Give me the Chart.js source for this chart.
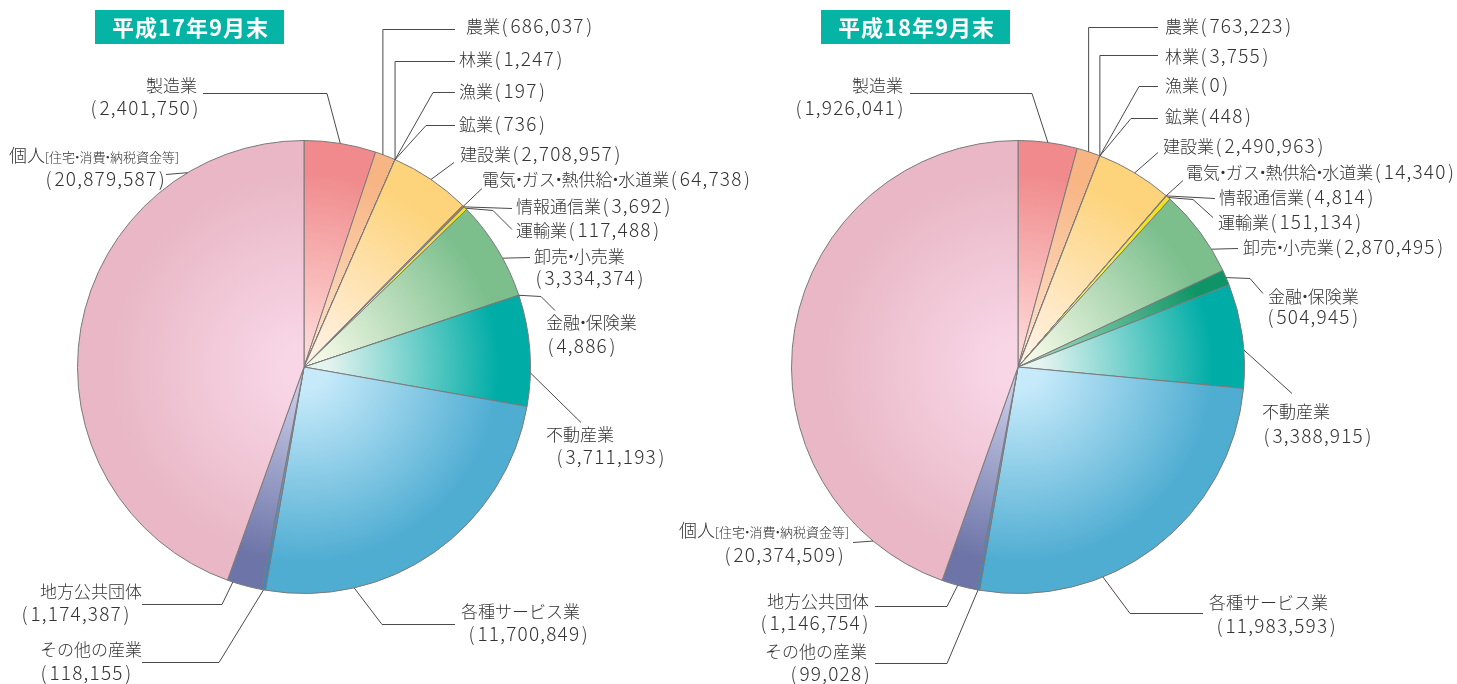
<!DOCTYPE html>
<html><head><meta charset="utf-8">
<script src="https://cdn.jsdelivr.net/npm/chart.js@4.4.1/dist/chart.umd.min.js"></script>
<style>
html,body{margin:0;padding:0;background:#fff;}
#wrap{position:relative;width:1457px;height:684px;overflow:hidden;}
canvas{position:absolute;left:0;top:0;}
</style></head><body>
<div id="wrap"><canvas id="c1" width="1457" height="684"></canvas><canvas id="c2" width="1457" height="684"></canvas></div>
<script>
// ---- data ----
const categories = ['製造業','農業','林業','漁業','鉱業','建設業','電気・ガス・熱供給・水道業','情報通信業','運輸業','卸売・小売業','金融・保険業','不動産業','各種サービス業','その他の産業','地方公共団体','個人'];
const values2005 = [2401750,686037,1247,197,736,2708957,64738,3692,117488,3334374,4886,3711193,11700849,118155,1174387,20879587];
const values2006 = [1926041,763223,3755,0,448,2490963,14340,4814,151134,2870495,504945,3388915,11983593,99028,1146754,20374509];
const titles = ['平成17年9月末','平成18年9月末'];

// ---- styles ----
const sliceLight = ['#fdd6d4','#fde0c8','#f5d4bc','#d9ecf5','#e8e0d0','#fff0e0','#e8c8a8','#dcdcdc','#fff6a0','#f0f7e4','#9ed6b8','#e6f4f0','#c6eafa','#8ab8e0','#c8cae6','#f8d6e6'];
const sliceDark  = ['#f08a8c','#f7b584','#d89868','#6ab0d8','#b0a080','#fdd47c','#b07850','#909090','#f2e21e','#7cbf8d','#0e9466','#00aca6','#4fadd2','#3f86c4','#6d75a8','#e9b7c5'];
const FONT = '"Noto Sans CJK JP","Noto Sans",sans-serif';

function fmt(n){ return n.toLocaleString('en-US'); }

function sliceFill(ctx){
  const i = ctx.dataIndex, chart = ctx.chart, ca = chart.chartArea;
  if(!ca) return sliceDark[i];
  const cx=(ca.left+ca.right)/2, cy=(ca.top+ca.bottom)/2, R=Math.min(ca.width,ca.height)/2;
  const g = chart.ctx.createRadialGradient(cx,cy,0,cx,cy,R);
  g.addColorStop(0, sliceLight[i]);
  g.addColorStop(0.1, sliceLight[i]);
  g.addColorStop(0.86, sliceDark[i]);
  g.addColorStop(1, sliceDark[i]);
  return g;
}

function drawRich(c, str, x, y, size){
  const base = y + 6.5;
  c.textBaseline='alphabetic';
  let cx=x;
  for(const ch of str){
    if(ch==='・'){
      c.font = '300 '+size+'px '+FONT;
      const w=size*0.34; c.textAlign='center'; c.fillText(ch,cx+w/2,base); cx+=w;
    } else if(/[0-9,]/.test(ch) && size>=15){
      c.font = '300 19px '+FONT; c.textAlign='left'; c.fillText(ch,cx,base);
      cx+=c.measureText(ch).width+1.2;
    } else if(/[()]/.test(ch) && size>=15){
      c.font = '300 19px '+FONT; c.textAlign='left';
      if(ch==='('){ cx+=1.5; c.fillText(ch,cx,base); cx+=c.measureText(ch).width+3; }
      else { cx+=1.5; c.fillText(ch,cx,base); cx+=c.measureText(ch).width+1; }
    } else {
      c.font = '300 '+size+'px '+FONT; c.textAlign='left'; c.fillText(ch,cx,base); cx+=c.measureText(ch).width;
    }
  }
  return cx;
}

// label layouts (annotation placement only)
function layout2005(v){ return [
 {path:[[327,93],[203,93]], lines:[{x:146,y:85,s:[[categories[0],17]]},{x:89,y:108,s:[['('+fmt(v[0])+')',17]]}]},
 {f:.37,path:[[null,29],[455,29]], lines:[{x:466,y:26,s:[[categories[1]+'('+fmt(v[1])+')',17]]}]},
 {path:[[null,61],[455,61]], lines:[{x:459,y:59,s:[[categories[2]+'('+fmt(v[2])+')',17]]}]},
 {path:[[433,92],[455,92]], lines:[{x:459,y:91,s:[[categories[3]+'('+fmt(v[3])+')',17]]}]},
 {path:[[426,125],[455,125]], lines:[{x:459,y:124,s:[[categories[4]+'('+fmt(v[4])+')',17]]}]},
 {path:[[454,162]], lines:[{x:460,y:154,s:[[categories[5]+'('+fmt(v[5])+')',17]]}]},
 {path:[[482,188]], lines:[{x:482,y:179,s:[[categories[6]+'('+fmt(v[6])+')',17]]}]},
 {path:[[512,208]], lines:[{x:516,y:206,s:[[categories[7]+'('+fmt(v[7])+')',17]]}]},
 {path:[[493,210],[512,229]], lines:[{x:516,y:230,s:[[categories[8]+'('+fmt(v[8])+')',17]]}]},
 {f:.6,path:[[530,257]], lines:[{x:534,y:256,s:[[categories[9],17]]},{x:534,y:278,s:[['('+fmt(v[9])+')',17]]}]},
 {path:[[541,296],[555,310]], lines:[{x:546,y:322,s:[[categories[10],17]]},{x:546,y:346,s:[['('+fmt(v[10])+')',17]]}]},
 {f:.7,path:[[581,422]], lines:[{x:546,y:434,s:[[categories[11],17]]},{x:555,y:457,s:[['('+fmt(v[11])+')',17]]}]},
 {f:.748,path:[[382,624],[455,624]], lines:[{x:461,y:611,s:[[categories[12],17]]},{x:467,y:634,s:[['('+fmt(v[12])+')',17]]}]},
 {path:[[219,662],[142,662]], lines:[{x:40,y:649,s:[[categories[13],17]]},{x:39,y:673,s:[['('+fmt(v[13])+')',17]]}]},
 {f:.84,path:[[222,604],[142,604]], lines:[{x:40,y:591,s:[[categories[14],17]]},{x:20,y:614,s:[['('+fmt(v[14])+')',17]]}]},
 {f:.807,path:[[166,174]], lines:[{x:9,y:155,s:[[categories[15],18],['[住宅・消費・納税資金等]',13]]},{x:44,y:179,s:[['('+fmt(v[15])+')',17]]}]}
];}
function layout2006(v){ return [
 {path:[[1032,93],[910,93]], lines:[{x:852,y:85,s:[[categories[0],17]]},{x:794,y:108,s:[['('+fmt(v[0])+')',17]]}]},
 {path:[[null,27],[1158,27]], lines:[{x:1165,y:26,s:[[categories[1]+'('+fmt(v[1])+')',17]]}]},
 {path:[[null,55],[1158,55]], lines:[{x:1165,y:56,s:[[categories[2]+'('+fmt(v[2])+')',17]]}]},
 {path:[[1139,86],[1158,86]], lines:[{x:1165,y:85,s:[[categories[3]+'('+fmt(v[3])+')',17]]}]},
 {path:[[1131,118],[1158,118]], lines:[{x:1165,y:116,s:[[categories[4]+'('+fmt(v[4])+')',17]]}]},
 {path:[[1158,152]], lines:[{x:1163,y:146,s:[[categories[5]+'('+fmt(v[5])+')',17]]}]},
 {path:[[1183,180]], lines:[{x:1186,y:172,s:[[categories[6]+'('+fmt(v[6])+')',17]]}]},
 {path:[[1215,198]], lines:[{x:1219,y:197,s:[[categories[7]+'('+fmt(v[7])+')',17]]}]},
 {path:[[1193,199],[1213,217]], lines:[{x:1218,y:222,s:[[categories[8]+'('+fmt(v[8])+')',17]]}]},
 {f:.73,path:[[1238,248]], lines:[{x:1243,y:247,s:[[categories[9]+'('+fmt(v[9])+')',17]]}]},
 {path:[[1250,278],[1263,293]], lines:[{x:1268,y:296,s:[[categories[10],17]]},{x:1266,y:317,s:[['('+fmt(v[10])+')',17]]}]},
 {f:.636,path:[[1292,393]], lines:[{x:1262,y:411,s:[[categories[11],17]]},{x:1262,y:436,s:[['('+fmt(v[11])+')',17]]}]},
 {f:.663,path:[[1130,613],[1203,613]], lines:[{x:1209,y:602,s:[[categories[12],17]]},{x:1215,y:626,s:[['('+fmt(v[12])+')',17]]}]},
 {path:[[947,663],[875,663]], lines:[{x:765,y:651,s:[[categories[13],17]]},{x:789,y:674,s:[['('+fmt(v[13])+')',17]]}]},
 {f:.54,path:[[947,606],[875,606]], lines:[{x:767,y:601,s:[[categories[14],17]]},{x:759,y:623,s:[['('+fmt(v[14])+')',17]]}]},
 {f:.126,path:[[853,542]], lines:[{x:679,y:530,s:[[categories[15],18],['[住宅・消費・納税資金等]',13]]},{x:723,y:555,s:[['('+fmt(v[15])+')',17]]}]}
];}

function makePlugin(layout, title, box){
  return {
    id:'leaderLabels',
    afterDraw(chart){
      const c = chart.ctx;
      const arcs = chart.getDatasetMeta(0).data;
      c.save();
      // title box
      c.fillStyle='#05b4a5';
      c.fillRect(box[0],box[1],box[2],box[3]);
      c.fillStyle='#ffffff';
      c.font='bold 22px '+FONT;
      if('letterSpacing' in c) c.letterSpacing='1px';
      c.textAlign='center'; c.textBaseline='middle';
      c.fillText(title, box[0]+box[2]/2+1, box[1]+box[3]/2+1);
      if('letterSpacing' in c) c.letterSpacing='0px';
      // leaders
      c.strokeStyle='#4a4a4a'; c.lineWidth=1;
      layout.forEach((L,i)=>{
        const a = arcs[i];
        const p = a.getProps(['x','y','startAngle','endAngle','outerRadius'],true);
        const f = (L.f===undefined)?0.5:L.f;
        const ang = p.startAngle+(p.endAngle-p.startAngle)*f;
        const px = p.x+Math.cos(ang)*p.outerRadius, py = p.y+Math.sin(ang)*p.outerRadius;
        c.beginPath(); c.moveTo(px,py);
        let lx=px;
        L.path.forEach(w=>{ const wx=(w[0]===null)?lx:w[0]; c.lineTo(wx,w[1]+0.5); lx=wx; });
        c.stroke();
        c.fillStyle='#333333';
        L.lines.forEach(ln=>{
          let x=ln.x;
          ln.s.forEach(seg=>{
            const yy = seg[1]<15 ? ln.y+0.5 : ln.y;
            x = drawRich(c, seg[0], x, yy, seg[1]);
          });
        });
      });
      c.restore();
    }
  };
}

function makeChart(id, values, padding, layout, title, box){
  return new Chart(document.getElementById(id), {
    type:'pie',
    data:{labels:categories, datasets:[{data:values, backgroundColor:sliceFill, borderColor:'#7a7a7a', borderWidth:1}]},
    options:{responsive:false, animation:false, events:[], layout:{padding},
      plugins:{legend:{display:false}, tooltip:{enabled:false}, title:{display:false}}},
    plugins:[makePlugin(layout, title, box)]
  });
}

makeChart('c1', values2005, {left:77,top:140,right:926,bottom:90}, layout2005(values2005), titles[0], [95,10,189,34]);
makeChart('c2', values2006, {left:791,top:140,right:212,bottom:90}, layout2006(values2006), titles[1], [821,10,189,34]);
</script>
</body></html>
